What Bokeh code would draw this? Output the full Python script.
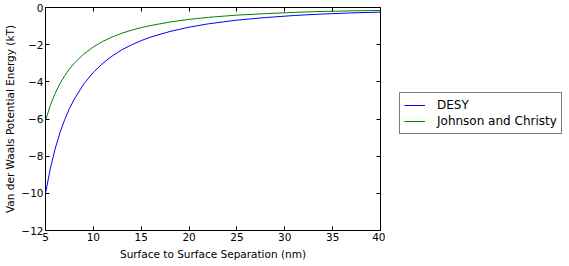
from bokeh.plotting import figure
from bokeh.models import Legend, LegendItem, LinearAxis, FixedTicker, Range1d
from bokeh.layouts import row
from bokeh.embed import file_html
from bokeh.resources import INLINE

# Surface-to-surface separation (nm)
separation = [5, 5.5, 6, 6.5, 7, 7.5, 8, 9, 10, 11, 12, 13, 14, 15, 16, 18,
              20, 22, 25, 28, 31, 34, 37, 40]
# Van der Waals potential energy (kT)
desy = [-10.0, -8.68, -7.62, -6.75, -6.04, -5.44, -4.94, -4.11, -3.49, -2.99,
        -2.60, -2.27, -2.01, -1.78, -1.59, -1.29, -1.06, -0.88, -0.68, -0.54,
        -0.43, -0.35, -0.29, -0.25]
johnson_christy = [-6.08, -5.28, -4.63, -4.10, -3.67, -3.31, -3.00, -2.50,
                   -2.12, -1.82, -1.58, -1.38, -1.22, -1.08, -0.97, -0.78,
                   -0.64, -0.53, -0.41, -0.33, -0.26, -0.21, -0.18, -0.16]
series_names = ["DESY", "Johnson and Christy"]
series_colors = ["#0000ff", "#008000"]
x_ticks = [5, 10, 15, 20, 25, 30, 35, 40]
y_ticks = [-12, -10, -8, -6, -4, -2, 0]

FONT = "DejaVu Sans"
FS = "10.5px"

p = figure(width=385, height=262, output_backend="svg", toolbar_location=None,
           x_range=Range1d(5, 40), y_range=Range1d(-12, 0),
           min_border_left=45, min_border_top=7, min_border_bottom=32,
           min_border_right=5)
p.grid.visible = False
p.outline_line_color = "black"
p.outline_line_width = 1
p.background_fill_color = "white"
p.border_fill_color = "white"

p.line(separation, desy, line_color=series_colors[0], line_width=1)
p.line(separation, johnson_christy, line_color=series_colors[1], line_width=1)

def style_axis(ax, ticks, labels=True):
    ax.ticker = FixedTicker(ticks=ticks)
    ax.minor_tick_line_color = None
    ax.major_tick_in = 4
    ax.major_tick_out = 0
    ax.major_tick_line_color = "black"
    ax.axis_line_color = None
    ax.major_label_text_font = FONT
    ax.major_label_text_font_size = FS
    ax.major_label_text_color = "black"
    ax.major_label_standoff = 2
    ax.axis_label_text_font = FONT
    ax.axis_label_text_font_size = FS
    ax.axis_label_text_font_style = "normal"
    ax.axis_label_text_color = "black"
    ax.axis_label_standoff = 4
    if not labels:
        ax.major_label_text_font_size = "0px"
        ax.major_label_standoff = 0

style_axis(p.xaxis[0], x_ticks)
style_axis(p.yaxis[0], y_ticks)
p.xaxis[0].axis_label = "Surface to Surface Separation (nm)"
p.yaxis[0].axis_label = "Van der Waals Potential Energy (kT)"
p.yaxis[0].axis_label_standoff = 2
p.yaxis[0].major_label_overrides = {v: ("\u2212" + str(-v) if v < 0 else str(v)) for v in y_ticks}

top = LinearAxis()
style_axis(top, x_ticks, labels=False)
p.add_layout(top, "above")
right = LinearAxis()
style_axis(right, y_ticks, labels=False)
p.add_layout(right, "right")

# Legend panel: key renderers carry the same series but sit outside this panel's view
p2 = figure(width=184, height=262, output_backend="svg", toolbar_location=None,
            x_axis_type=None, y_axis_type=None,
            x_range=Range1d(100, 101), y_range=Range1d(100, 101),
            min_border_left=0, min_border_right=0, min_border_top=0,
            min_border_bottom=0)
p2.grid.visible = False
p2.outline_line_color = None
p2.background_fill_color = "white"
p2.border_fill_color = "white"
k1 = p2.line(separation, desy, line_color=series_colors[0], line_width=1)
k2 = p2.line(separation, johnson_christy, line_color=series_colors[1], line_width=1)

legend = Legend(items=[LegendItem(label=series_names[0], renderers=[k1]),
                       LegendItem(label=series_names[1], renderers=[k2])],
                location=(14, 96), orientation="vertical")
legend.border_line_color = "black"
legend.border_line_width = 1
legend.background_fill_color = "white"
legend.background_fill_alpha = 1
legend.label_text_font = FONT
legend.label_text_font_size = "12px"
legend.label_text_color = "black"
legend.padding = 4
legend.spacing = 0
legend.margin = 0
legend.label_height = 16
legend.glyph_height = 16
legend.glyph_width = 21
legend.label_standoff = 12
p2.add_layout(legend, "center")

open("out.html", "w").write(file_html(row(p, p2), INLINE))
